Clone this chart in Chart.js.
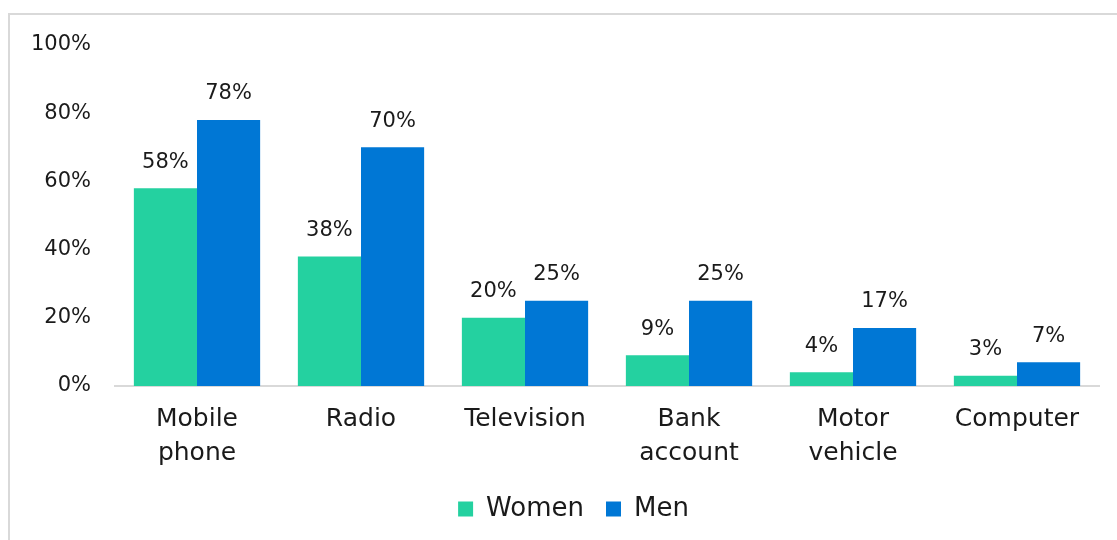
<!DOCTYPE html>
<html>
<head>
<meta charset="utf-8">
<script src="https://cdn.jsdelivr.net/npm/chart.js@4/dist/chart.umd.min.js"></script>
<style>
    html, body { margin: 0; padding: 0; background: #fff; }
    #wrap { position: relative; width: 1117px; height: 540px; }
    #frame { position: absolute; left: 8px; top: 13px; right: 0; bottom: 0;
             border-left: 2px solid #d9d9d9; border-top: 2px solid #d9d9d9; }
    canvas { position: absolute; left: 0; top: 0; }
</style>
</head>
<body>
<div id="wrap">
    <div id="frame"></div>
    <canvas id="assetChart" width="1117" height="540"></canvas>
</div>
<script>
const categories = [['Mobile', 'phone'], 'Radio', 'Television', ['Bank', 'account'], ['Motor', 'vehicle'], 'Computer'];
const women = [58, 38, 20, 9, 4, 3];
const men = [78, 70, 25, 25, 17, 7];
const yTicks = [0, 20, 40, 60, 80, 100];

const FONT = "'DejaVu Sans', sans-serif";
const TEXT = '#1a1a1a';

// percentage labels drawn above each bar
const barLabels = {
    id: 'barLabels',
    afterDatasetsDraw(chart) {
        const ctx = chart.ctx;
        ctx.save();
        ctx.font = '21px ' + FONT;
        ctx.fillStyle = TEXT;
        ctx.textAlign = 'center';
        ctx.textBaseline = 'middle';
        chart.data.datasets.forEach((ds, i) => {
            chart.getDatasetMeta(i).data.forEach((bar, j) => {
                ctx.fillText(ds.data[j] + '%', bar.x, bar.y - 26);
            });
        });
        ctx.restore();
    }
};

// nudge the legend a little to the right, under the plot centre
const legendShift = {
    id: 'legendShift',
    afterLayout(chart) {
        const lg = chart.legend;
        if (!lg) return;
        lg.left += 24;
        lg.right += 24;
        (lg.legendHitBoxes || []).forEach(b => { b.left += 24; });
    }
};

new Chart(document.getElementById('assetChart').getContext('2d'), {
    type: 'bar',
    data: {
        labels: categories,
        datasets: [
            { label: 'Women', data: women, backgroundColor: '#24d1a0' },
            { label: 'Men', data: men, backgroundColor: '#0077d5' }
        ]
    },
    options: {
        responsive: false,
        animation: false,
        events: [],
        datasets: { bar: { categoryPercentage: 0.77, barPercentage: 1.0 } },
        layout: { padding: { top: 45, right: 18, bottom: 8, left: 0 } },
        scales: {
            x: {
                grid: { display: false, drawTicks: false },
                border: { color: '#d9d9d9', width: 2 },
                ticks: { color: TEXT, font: { family: FONT, size: 25, lineHeight: 1.35 }, padding: 17, maxRotation: 0, autoSkip: false },
                afterFit(s) { s.height = 88; }
            },
            y: {
                min: 0, max: 100,
                grid: { display: false, drawTicks: false },
                border: { display: false },
                afterBuildTicks(s) { s.ticks = yTicks.map(v => ({ value: v })); },
                ticks: { color: TEXT, font: { family: FONT, size: 21 }, padding: 24, callback: v => v + '%' },
                afterFit(s) { s.width = 115; }
            }
        },
        plugins: {
            legend: {
                position: 'bottom',
                labels: { color: TEXT, font: { family: FONT, size: 26 }, boxWidth: 15, boxHeight: 15, padding: 22, useBorderRadius: false }
            },
            tooltip: { enabled: false }
        }
    },
    plugins: [barLabels, legendShift]
});
</script>
</body>
</html>
